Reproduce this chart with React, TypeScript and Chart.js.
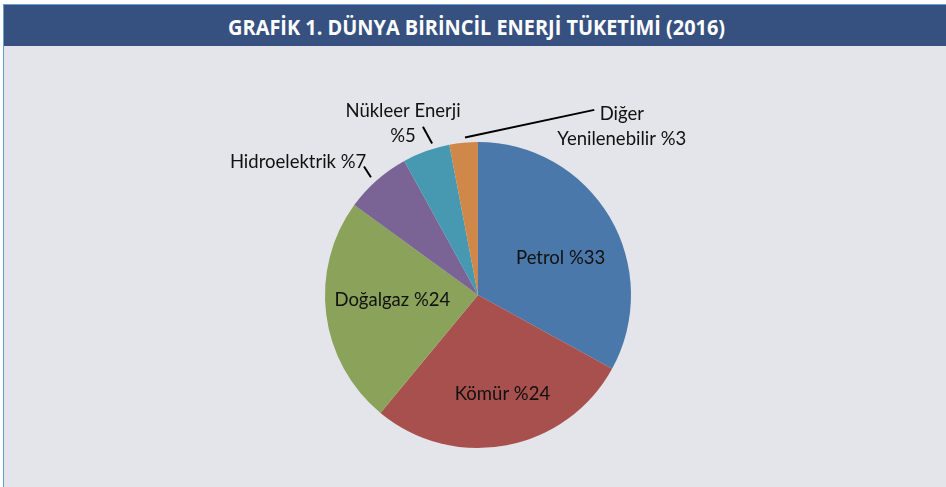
import React, { useEffect, useRef } from "react";
import { Chart, registerables } from "chart.js";

Chart.register(...registerables);

const TITLE = "GRAFİK 1. DÜNYA BİRİNCİL ENERJİ TÜKETİMİ (2016)";
const categories = ["Petrol", "Kömür", "Doğalgaz", "Hidroelektrik", "Nükleer Enerji", "Diğer Yenilenebilir"];
const shares = [33, 28, 24, 7, 5, 3];
const labelLines = [
  ["Petrol %33"],
  ["Kömür %24"],
  ["Doğalgaz %24"],
  ["Hidroelektrik %7"],
  ["Nükleer Enerji", "%5"],
  ["Diğer", "Yenilenebilir %3"],
];
const colors = ["#4a78aa", "#a7504d", "#8aa25a", "#7a6496", "#4699b1", "#d0874a"];

// label layout relative to pie centre, in units of radius
const labelLayout = [
  { x: 0.54, y: -0.24, align: "center", lines: [0] },
  { x: 0.16, y: 0.65, align: "center", lines: [0] },
  { x: -0.56, y: 0.03, align: "center", lines: [0] },
  { x: -0.73, y: -0.87, align: "right", lines: [0] },
  { x: -0.49, y: -1.20, align: "center", lines: [0, 0.163] },
  { x: 0.94, y: -1.18, align: "center", lines: [0, 0.163] },
];
const leaders: (number[] | null)[] = [
  null,
  null,
  null,
  [-0.745, -0.84, -0.70, -0.77],
  [-0.36, -1.10, -0.30, -0.99],
  [-0.085, -1.03, 0.76, -1.21],
];

const labelPlugin = {
  id: "pieLabels",
  afterDatasetsDraw(chart: any) {
    const ctx = chart.ctx;
    const meta = chart.getDatasetMeta(0);
    const arc0 = meta.data[0];
    if (!arc0) return;
    const cx = arc0.x, cy = arc0.y, r = arc0.outerRadius;
    ctx.save();
    ctx.fillStyle = "#111";
    ctx.font = "18.5px Lato, 'Open Sans', sans-serif";
    ctx.textBaseline = "middle";
    labelLines.forEach((lines, i) => {
      const L = labelLayout[i];
      ctx.textAlign = L.align;
      lines.forEach((t, j) => {
        ctx.fillText(t, cx + L.x * r, cy + (L.y + L.lines[j]) * r);
      });
      const ld = leaders[i];
      if (ld) {
        ctx.beginPath();
        ctx.strokeStyle = "#000";
        ctx.lineWidth = 2;
        ctx.moveTo(cx + ld[0] * r, cy + ld[1] * r);
        ctx.lineTo(cx + ld[2] * r, cy + ld[3] * r);
        ctx.stroke();
      }
    });
    ctx.restore();
  },
};

export default function App() {
  const ref = useRef<HTMLCanvasElement>(null);
  useEffect(() => {
    if (!ref.current) return;
    const chart = new Chart(ref.current, {
      type: "pie",
      data: {
        labels: categories,
        datasets: [
          {
            data: shares,
            backgroundColor: colors,
            borderWidth: 0,
          },
        ],
      },
      options: {
        animation: false,
        responsive: false,
        maintainAspectRatio: false,
        layout: { padding: { left: 10, right: 0, top: 96, bottom: 39 } },
        plugins: {
          legend: { display: false },
          tooltip: { enabled: false },
        },
      },
      plugins: [labelPlugin],
    });
    return () => chart.destroy();
  }, []);

  return (
    <div style={{ position: "fixed", left: 0, top: 0, width: 946, height: 487, background: "#ffffff", overflow: "hidden" }}>
      <div
        style={{
          position: "absolute",
          left: 3,
          top: 4,
          width: 943,
          height: 483,
          background: "#e4e5ea",
          borderLeft: "1px solid #6a9fd4",
          borderTop: "1px solid #6a9fd4",
          boxSizing: "border-box",
        }}
      />
      <div
        style={{
          position: "absolute",
          left: 4,
          top: 5,
          width: 942,
          height: 41,
          background: "#36517f",
          display: "flex",
          alignItems: "center",
          justifyContent: "center",
        }}
      >
        <span
          style={{
            color: "#fff",
            fontFamily: "'Open Sans', sans-serif",
            fontWeight: 700,
            fontSize: 22,
            display: "inline-block",
            transform: "scaleX(0.905)",
            whiteSpace: "nowrap",
            marginLeft: 4,
          }}
        >
          {TITLE}
        </span>
      </div>
      <canvas ref={ref} width={946} height={441} style={{ position: "absolute", left: 0, top: 46, width: 946, height: 441 }} />
    </div>
  );
}
